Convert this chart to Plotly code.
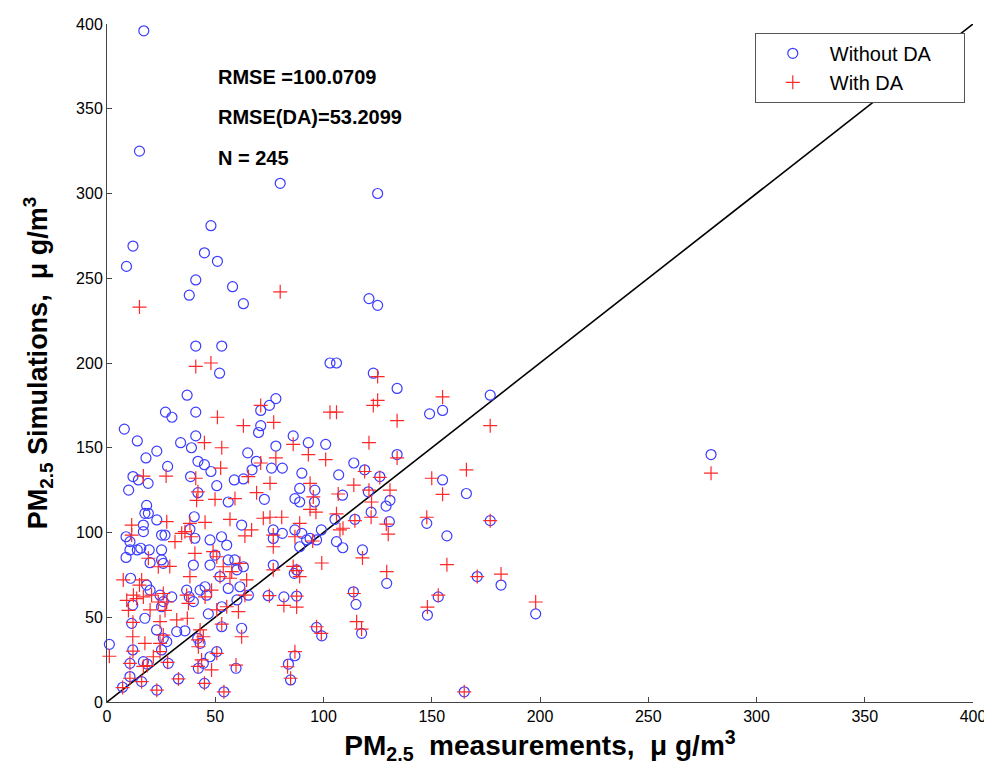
import plotly.graph_objects as go

# Without DA (blue open circles): measurement, simulation
circ_x = [17,15,80,125,48,12,45,51,9,41,38,58,63,121,125,41,53,52,103,106,123,134,37,27,30,41,71,75,78,71,70,149,
          8,14,18,23,28,34,39,41,65,69,78,76,81,86,93,101,114,119,126,134,12,42,45,48,67,90,107,
          14.5,19,10,38.6,50.7,42,58.8,63,72.7,56,89,96,86.8,89,95.8,108.8,120.7,130.7,128.9,122,105.3,114.5,130.4,147.7,148,
          106,108.9,118,99,93.8,89,87.6,86.5,76.8,74.5,81.7,87.6,113.8,115,117.6,129.2,96.8,99.2,86.8,83.8,84.8,59.6,54,45,33,23,16,
          7.2,10.6,1.1,10.6,11.9,11.4,11.9,10.9,8.8,10.6,8.8,10.6,14,15.6,16.8,16.8,18.3,17.5,19.1,23,25.2,26.8,25.2,19.5,19.9,25.2,26,
          18.3,19.9,24.5,26,29.9,25.2,17.5,22.9,26,27.6,32.2,36,41.9,43,46.8,50.7,47.6,42.2,44.5,28.3,25.2,16.8,18.6,53,53,52.2,47.6,
          49.9,52.9,55.3,47.6,56,59,63,60,56,61.4,65.3,60,62.2,62.2,40.3,38.3,40.6,39.9,36.8,38,39.9,43,45.3,46,76.8,76.8,81,86.8,90,
          92.2,96.8,155,177,155,166,157,177,171,182,153,198,165,279]
circ_y = [396,325,306,300,281,269,265,260,257,249,240,245,235,238,234,210,210,194,200,200,194,185,181,171,168,171,172,175,179,163,159,170,
          161,154,144,148,139,153,150,157,147,142,151,138,138,157,153,152,141,137,133,146,133,142,140,136,137,135,134,
          131,129,125,133,127.6,123.5,131,131.6,119.6,118,126,125,120,118,118,122,124,119,115.6,112,107.8,107.8,106.4,105.4,51.3,
          94.6,91,89.7,101.5,96.5,91.6,77.9,75.9,80.8,62.7,62,62.5,65,57.6,40.5,70,44,39,27.3,22.4,13,19.9,6,11,13.6,7,12,
          8.7,15,34,22.8,30.7,46.4,57.2,73,97.5,94.6,85.3,89.7,89.7,90.7,100.5,104.4,116,111.3,111.3,107.4,98.5,98.5,89.7,89.7,82.2,83.8,81.8,
          69,66,63,59.2,62,56.2,49.4,42.5,37.6,35.6,41.5,42,37.6,34.6,52,29.7,26.7,19.9,22.8,22.8,30.7,23.8,22.4,56.2,44.4,74,80.8,
          86.7,97.5,92.6,95.6,83.8,83.8,79.8,78,67,68,63,60.2,43.5,104.4,109.3,101.9,96.6,80.8,66,62,59.2,66,68,63,101.5,96.5,99.5,101.5,99.5,
          95.6,95.6,172,181,131,123,98,107,74,69,62,52,6,146]

# With DA (red plus)
plus_x = [15,80,125,41,48,71,51,63,77,103,106,123,125,134,45,53,71,78,86,93,101,121,119,134,52.5,41,16.8,27.3,
          42,41.4,65.3,75.3,69.1,49.9,59.1,93.8,95.3,93.8,96.5,106.8,114,126,121,130.7,122.2,122,106,109,114.5,129,129.9,147.7,148,
          118,99.2,95,87.6,89,76.8,75,81.7,87.6,87.6,114,115.3,117.6,129.2,96.8,99,86.8,83.4,84.8,59.6,54,45,33,23,16,7.2,10.6,1.1,
          10.6,12,11.9,12,9.9,9.1,7.5,11.4,11.4,27.6,19.1,23.7,29,16,15,12.2,13.7,16.8,20.6,26,23.7,27.6,19.9,26.8,24.5,26,24.5,17.5,
          32.2,37.1,43,42,44.5,42.2,50.7,50.7,43.7,42,48.3,28,24.5,16.8,18.6,21.4,53,55.3,52.2,50.7,49,53.7,57.6,61.4,56.8,64.5,63.7,
          60.7,62.2,56.8,63.7,66.8,45.3,38.3,36,39,34.5,31.4,40.6,38.3,36.8,37.6,45.3,48.3,72.2,75.3,80.7,76.8,76.8,86.8,89,107.6,86,
          155,177,150,166,155,177,157,171,182,153,198,165,279]
plus_y = [233,242,192,198,200,175,168,163,165,171,171,175,178,166,153,150,141,144,152,146,143,153,136,144,138,132,133.3,133.3,
          124,119,133,129,123.5,119.6,120,129,121,113.7,112,122.7,128,132.5,125,125,118,109,111,102.5,107,105,99,109,56,
          85,82,95,77.5,74,78,62.7,57,62.5,56,64,47.4,43,76.9,44.4,40.5,29.7,20.8,14,21.8,6,11,13.6,7,12,8.5,14,27,
          22.8,30,38.5,47,54,60,72,104.4,98.5,106.4,84.8,79.8,80,72,69,63,61,62,63,64,59,59,54.3,54,47.4,39.5,34.6,34.6,
          48.4,49.4,42.5,36.6,38.5,32.6,54.3,28.7,24.8,21,18.9,23.4,29.7,21,21.5,26.7,46,56.2,74,85.7,88.7,79.8,76.9,81.8,73,72,63,
          53.3,38.5,107.8,98,101.5,106,105.4,100.5,97.5,99.5,94.6,87.7,74,63,58.2,62,66,108.4,109,109,98.5,91.6,97.5,105.4,101.5,80,
          180,163,132,137,122.5,107,81,74,75.5,63,59,6,135]

line_xy = [0, 400]
axis_ticks = [0, 50, 100, 150, 200, 250, 300, 350, 400]

stats_text = ["RMSE =100.0709", "RMSE(DA)=53.2099", "N = 245"]
stats_y = [369, 345, 321]

FONT = "Liberation Sans, Arial, Helvetica, sans-serif"
NB = "\u00a0"
fig = go.Figure()
fig.add_trace(go.Scatter(x=line_xy, y=line_xy, mode="lines",
                         line=dict(color="black", width=1.6), showlegend=False, hoverinfo="skip"))
fig.add_trace(go.Scatter(x=circ_x, y=circ_y, mode="markers", name="Without DA" + NB * 5,
                         marker=dict(symbol="circle-open", size=10, color="rgb(60,60,255)", line=dict(width=1.2)),
                         cliponaxis=False))
fig.add_trace(go.Scatter(x=plus_x, y=plus_y, mode="markers", name="With DA",
                         marker=dict(symbol="cross-thin-open", size=10, color="rgb(255,40,40)", line=dict(width=1.2, color="rgb(255,40,40)")),
                         cliponaxis=False))

for t, yy in zip(stats_text, stats_y):
    fig.add_annotation(x=50.3, y=yy, xref="x", yref="y", text="<b>" + t + "</b>", showarrow=False,
                       xanchor="left", yanchor="middle", font=dict(family=FONT, size=20, color="black"))

axis_common = dict(range=[0, 400], tickvals=axis_ticks, showgrid=False, zeroline=False, showline=True,
                   linecolor="#444", linewidth=1, ticks="inside", ticklen=5, tickcolor="#444",
                   tickfont=dict(family=FONT, size=16, color="black"), mirror=False, automargin=False)

fig.update_layout(
    width=984, height=765,
    margin=dict(l=99, r=19, t=16, b=71),
    paper_bgcolor="white", plot_bgcolor="white",
    xaxis=dict(**axis_common, title=dict(text="<b>PM<sub>2.5</sub>" + NB * 2 + "measurements," + NB * 2 + "μ g/m<sup>3</sup></b>",
                                         font=dict(family=FONT, size=28, color="black"), standoff=11)),
    yaxis=dict(**axis_common, title=dict(text="<b>PM<sub>2.5</sub>" + NB + "Simulations," + NB * 2 + "μ g/m<sup>3</sup></b>",
                                         font=dict(family=FONT, size=27, color="black"), standoff=20)),
    legend=dict(x=0.748, y=0.987, xanchor="left", yanchor="top", bgcolor="white",
                bordercolor="#555", borderwidth=1, font=dict(family=FONT, size=20, color="black"),
                itemwidth=64),
    showlegend=True,
)

fig.write_html("out.html")
